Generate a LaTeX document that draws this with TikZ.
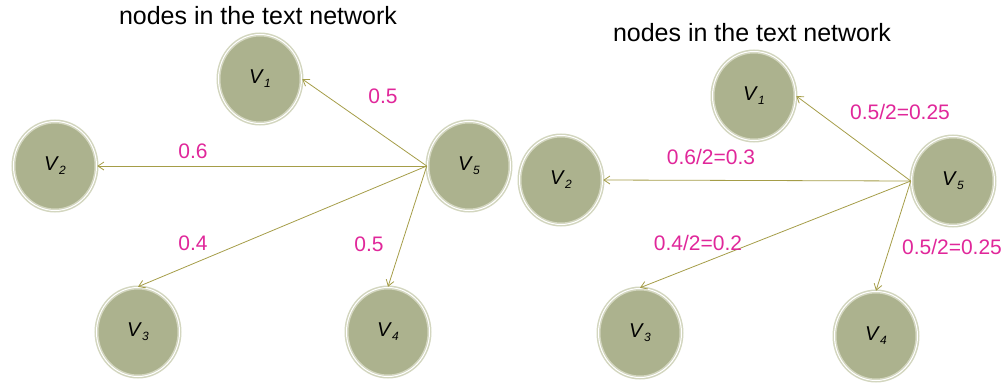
\documentclass[tikz,border=0pt]{standalone}
\usepackage{fontspec}
\setmainfont{Liberation Sans}
\usetikzlibrary{shapes.geometric,arrows.meta}
\definecolor{nodefill}{HTML}{ACB28E}
\definecolor{ringcol}{HTML}{D3D6BF}
\definecolor{arrcol}{HTML}{A59D48}
\definecolor{labcol}{HTML}{E0279A}
\tikzset{
  vnode/.style={ellipse, minimum width=83pt, minimum height=89pt, inner sep=0pt,
    fill=nodefill, draw=ringcol, double=white, line width=1.5pt, double distance=1pt,
    font=\fontsize{20}{22}\selectfont},
  arr/.style={draw=arrcol, line width=0.8pt, -{Straight Barb[length=6pt,width=8pt]}},
  wlab/.style={text=labcol, font=\fontsize{21}{24}\selectfont, inner sep=0pt},
  ttl/.style={font=\fontsize{25}{28}\selectfont, inner sep=0pt}
}
\newcommand{\vlab}[1]{\textit{V}\raisebox{-0.2em}{\fontsize{12}{13}\selectfont\textit{#1}}}
\begin{document}
\begin{tikzpicture}[x=1pt,y=-1pt]
\useasboundingbox (0,0) rectangle (1005,383);
% left network
\node[ttl] (t1) at (258,16) {nodes in the text network};
\node[vnode] (a1) at (260,79) {\vlab{1}};
\node[vnode] (a2) at (55,166) {\vlab{2}};
\node[vnode] (a5) at (469,166) {\vlab{5}};
\node[vnode] (a3) at (138,332) {\vlab{3}};
\node[vnode] (a4) at (388,332) {\vlab{4}};
\draw[arr] (a5.west) -- (a1.east);
\draw[arr] (a5.west) -- (a2.east);
\draw[arr] (a5.west) -- (a3.north);
\draw[arr] (a5.west) -- (a4.north);
\node[wlab] (la1) at (383,96) {0.5};
\node[wlab] (la2) at (193,151) {0.6};
\node[wlab] (la3) at (193,243) {0.4};
\node[wlab] (la4) at (369,244) {0.5};
% right network
\node[ttl] (t2) at (752,33) {nodes in the text network};
\node[vnode] (b1) at (754,96) {\vlab{1}};
\node[vnode] (b2) at (561,180) {\vlab{2}};
\node[vnode] (b5) at (953,181) {\vlab{5}};
\node[vnode] (b3) at (640,333) {\vlab{3}};
\node[vnode] (b4) at (876,336) {\vlab{4}};
\draw[arr] (b5.west) -- (b1.east);
\draw[arr] (b5.west) -- (b2.east);
\draw[arr] (b5.west) -- (b3.north);
\draw[arr] (b5.west) -- (b4.north);
\node[wlab] (lb1) at (900,112) {0.5/2=0.25};
\node[wlab] (lb2) at (711,157) {0.6/2=0.3};
\node[wlab] (lb3) at (698,243) {0.4/2=0.2};
\node[wlab] (lb4) at (952,247) {0.5/2=0.25};
\end{tikzpicture}
\end{document}
